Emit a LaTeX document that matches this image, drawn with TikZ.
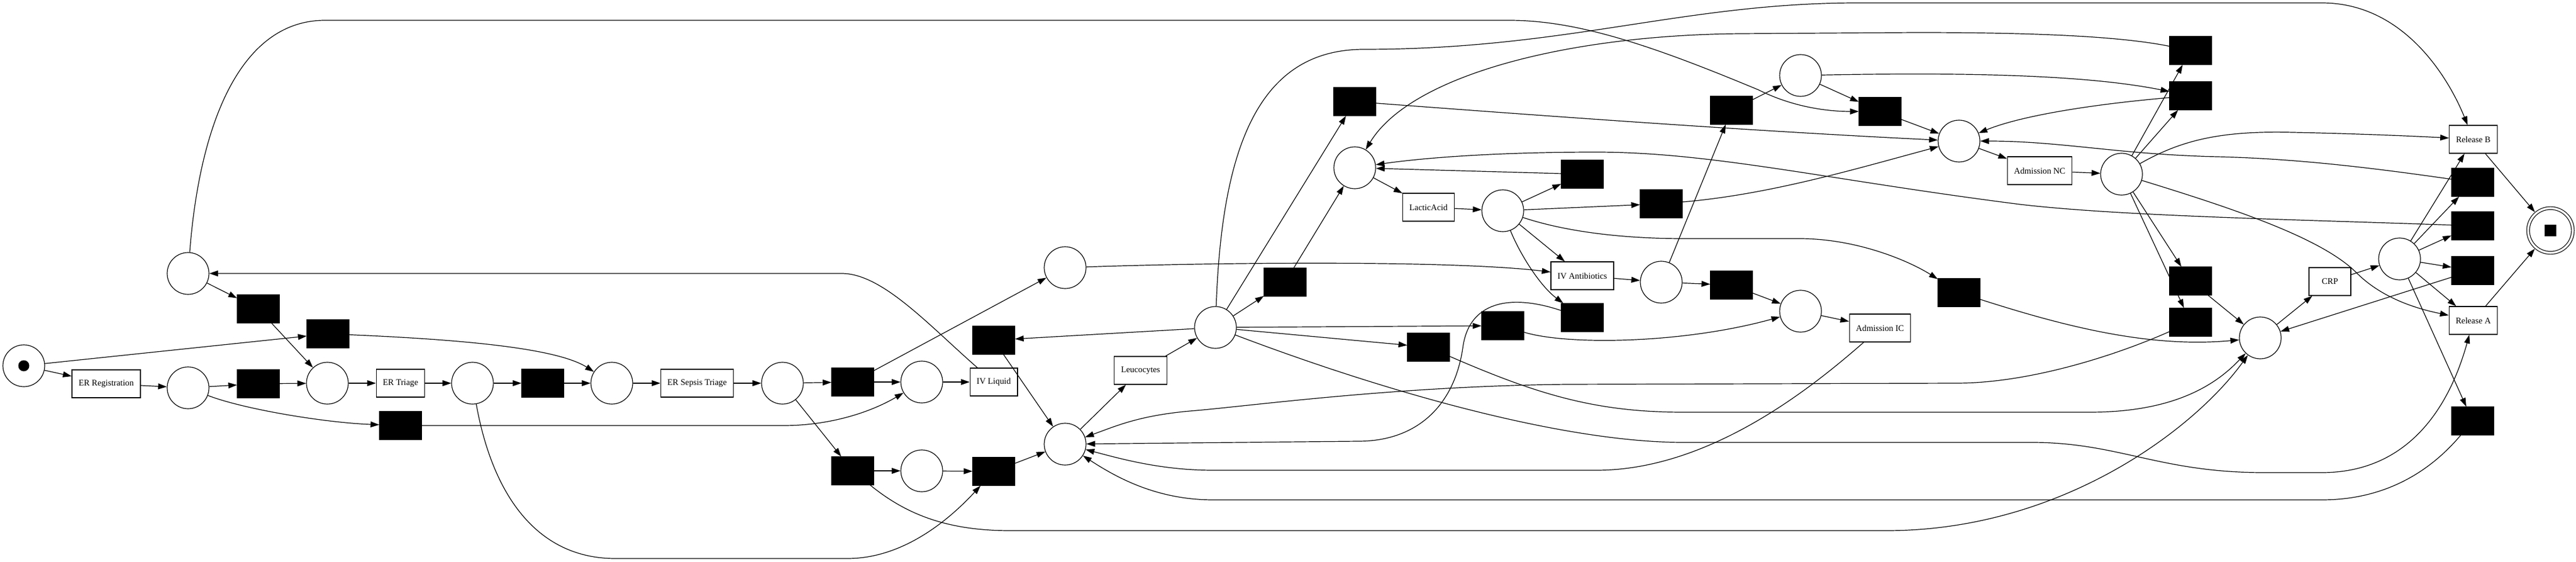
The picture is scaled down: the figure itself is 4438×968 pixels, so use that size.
\documentclass[tikz,border=0pt]{standalone}
\usepackage{fontspec}
\setmainfont{Liberation Serif}
\usetikzlibrary{arrows.meta}
\tikzset{
>={Triangle[length=15pt,width=10pt]}, % filled arrow heads as in the net
place/.style={circle, draw, fill=white, minimum size=72pt, inner sep=0pt}, % places
trans/.style={rectangle, draw, fill=white, minimum width=72pt, minimum height=48pt, inner xsep=11.5pt, font=\fontsize{14.8}{17}\selectfont}, % labelled transitions
silent/.style={rectangle, draw, fill=black, minimum width=72pt, minimum height=48pt}, % silent transitions
}
\begin{document}
\begin{tikzpicture}[x=1pt, y=-1pt, line width=1.2pt]
  \useasboundingbox (0,0) rectangle (4438,968);

  % Places
  \node[place] (ps) at (41,630) {};
  \node[place] (p1) at (324,668) {};
  \node[place] (p2) at (564,660) {};
  \node[place] (p3) at (814,660) {};
  \node[place] (p4) at (1054,660) {};
  \node[place] (p5) at (324,471) {};
  \node[place] (p6) at (3894,582) {};
  \node[place] (p7) at (1348,660) {};
  \node[place] (p8) at (1588,658) {};
  \node[place] (p9) at (1588,811) {};
  \node[place] (p10) at (1835,765) {};
  \node[place] (p11) at (1835,461) {};
  \node[place] (p12) at (2094,564) {};
  \node[place] (p13) at (2334,289) {};
  \node[place] (p14) at (2589,363) {};
  \node[place] (p15) at (2862,486) {};
  \node[place] (p16) at (3102,536) {};
  \node[place] (p17) at (3102,130) {};
  \node[place] (p18) at (3375,243) {};
  \node[place] (p19) at (3655,300) {};
  \node[place] (p20) at (4134,446) {};
  \node[place, double, double distance=3.6pt, minimum size=77pt, outer sep=3pt] (pe) at (4394,397) {};
  \fill (ps.center) circle (9.5pt);
  \fill (pe.center) ++(-10,-10) rectangle ++(20,20);

  % Labelled transitions
  \node[trans] (reg) at (183,661) {ER Registration};
  \node[trans] (triage) at (690,660) {ER Triage};
  \node[trans] (sepsis) at (1201,660) {ER Sepsis Triage};
  \node[trans] (ivl) at (1712,658) {IV Liquid};
  \node[trans] (leu) at (1965,638) {Leucocytes};
  \node[trans] (lac) at (2461,357) {LacticAcid};
  \node[trans] (iva) at (2726,475) {IV Antibiotics};
  \node[trans] (admic) at (3239,565) {Admission IC};
  \node[trans] (admnc) at (3514,294) {Admission NC};
  \node[trans] (crp) at (4014,485) {CRP};
  \node[trans] (relb) at (4261,240) {Release B};
  \node[trans] (rela) at (4261,552) {Release A};

  % Silent transitions
  \node[silent] (t1) at (445,661) {};
  \node[silent] (t2) at (935,660) {};
  \node[silent] (t3) at (445,532) {};
  \node[silent] (t4) at (565,575) {};
  \node[silent] (t5) at (690,733) {};
  \node[silent] (t6) at (1469,658) {};
  \node[silent] (t7) at (1469,811) {};
  \node[silent] (t8) at (1712,812) {};
  \node[silent] (t9) at (1712,586) {};
  \node[silent] (t10) at (2214,486) {};
  \node[silent] (t11) at (2334,175) {};
  \node[silent] (t12) at (2726,300) {};
  \node[silent] (t13) at (2862,351) {};
  \node[silent] (t14) at (2726,547) {};
  \node[silent] (t15) at (2983,491) {};
  \node[silent] (t16) at (2589,561) {};
  \node[silent] (t17) at (2461,598) {};
  \node[silent] (t18) at (2983,190) {};
  \node[silent] (t19) at (3239,192) {};
  \node[silent] (t20) at (3774,87) {};
  \node[silent] (t21) at (3774,165) {};
  \node[silent] (t22) at (4260,314) {};
  \node[silent] (t23) at (4260,389) {};
  \node[silent] (t24) at (4260,466) {};
  \node[silent] (t25) at (4260,725) {};
  \node[silent] (t26) at (3774,484) {};
  \node[silent] (t27) at (3774,555) {};
  \node[silent] (t28) at (3375,504) {};

  % Arcs
  \path[->]
    (ps) edge (reg)
    (ps) edge (t4)
    (reg) edge (p1)
    (p1) edge (t1)
    (t1) edge (p2)
    (p5) edge (t3)
    (t3) edge (p2)
    (p2) edge (triage)
    (triage) edge (p3)
    (p3) edge (t2)
    (t2) edge (p4)
    (p4) edge (sepsis)
    (sepsis) edge (p7)
    (p7) edge (t6)
    (p7) edge (t7)
    (t6) edge (p8)
    (t6) edge (p11)
    (p8) edge (ivl)
    (t7) edge (p9)
    (p9) edge (t8)
    (t8) edge (p10)
    (t9) edge (p10)
    (p10) edge (leu)
    (leu) edge (p12)
    (p12) edge (t9)
    (p12) edge (t10)
    (p12) edge (t11)
    (p12) edge (t16)
    (p12) edge (t17)
    (t10) edge (p13)
    (p13) edge (lac)
    (lac) edge (p14)
    (p14) edge (t12)
    (t12) edge (p13)
    (p14) edge (t13)
    (p14) edge (iva)
    (iva) edge (p15)
    (p15) edge (t18)
    (p15) edge (t15)
    (t15) edge (p16)
    (t18) edge (p17)
    (p17) edge (t19)
    (t19) edge (p18)
    (p18) edge (admnc)
    (admnc) edge (p19)
    (p16) edge (admic)
    (p19) edge (t20)
    (p19) edge (t21)
    (p19) edge (t26)
    (p19) edge (t27)
    (t26) edge (p6)
    (t24) edge (p6)
    (p6) edge (crp)
    (crp) edge (p20)
    (p20) edge (relb)
    (p20) edge (t22)
    (p20) edge (t23)
    (p20) edge (t24)
    (p20) edge (rela)
    (p20) edge (t25)
    (relb) edge (pe)
    (rela) edge (pe);

  % Curved arcs
  \draw[->] (p1) .. controls (420,705) and (560,728) .. (t5);
  \draw[->] (t4) .. controls (800,585) and (960,600) .. (p4);
  \draw[->] (p3) .. controls (850,860) and (930,962) .. (1060,962) -- (1460,962) .. controls (1560,962) and (1640,890) .. (t8);
  \draw[->] (t5) -- (1350,733) .. controls (1430,733) and (1500,710) .. (p8);
  \draw[->] (p5) .. controls (345,200) and (420,35) .. (560,35) -- (2600,35) .. controls (2720,35) and (2850,80) .. (3030,155) .. controls (3090,185) and (3150,192) .. (t19);
  \draw[->] (ivl) .. controls (1600,560) and (1520,471) .. (1450,471) -- (p5);
  \draw[->] (t7) .. controls (1560,885) and (1630,914) .. (1740,914) -- (3250,914) .. controls (3550,914) and (3780,740) .. (p6);
  \draw[->] (t27) .. controls (3650,610) and (3500,660) .. (3370,660) -- (2700,662) .. controls (2400,665) and (2150,700) .. (2050,708) .. controls (1960,716) and (1920,735) .. (p10);
  \draw[->] (p14) .. controls (2615,430) and (2650,490) .. (t14);
  \draw[->] (t14) .. controls (2600,505) and (2530,520) .. (2520,600) .. controls (2505,700) and (2440,760) .. (2340,760) -- (p10);
  \draw[->] (admic) .. controls (3130,660) and (2950,810) .. (2750,810) -- (2090,810) .. controls (2000,810) and (1930,790) .. (p10);
  \draw[->] (t25) .. controls (4180,820) and (4100,861) .. (4000,861) -- (2090,861) .. controls (1990,861) and (1920,820) .. (p10);
  \draw[->] (p11) .. controls (2100,452) and (2500,448) .. (iva);
  \draw[->] (p12) .. controls (2105,250) and (2170,85) .. (2350,85) .. controls (2700,85) and (2900,5) .. (3200,5) -- (4000,5) .. controls (4150,5) and (4225,150) .. (relb);
  \draw[->] (p12) .. controls (2400,680) and (2700,762) .. (2900,762) -- (3500,762) .. controls (3650,762) and (3720,814) .. (3900,814) -- (4000,814) .. controls (4150,814) and (4220,700) .. (rela);
  \draw[->] (t11) .. controls (2600,195) and (3000,225) .. (p18);
  \draw[->] (p14) .. controls (2700,400) and (2800,411) .. (2900,411) -- (3100,411) .. controls (3200,411) and (3290,450) .. (t28);
  \draw[->] (t13) .. controls (3050,335) and (3200,290) .. (p18);
  \draw[->] (t23) .. controls (3950,378) and (3650,372) .. (3480,352) .. controls (3150,310) and (2950,262) .. (2750,262) .. controls (2550,262) and (2430,275) .. (p13);
  \draw[->] (t20) .. controls (3650,62) and (3500,56) .. (3300,56) -- (3000,58) .. controls (2700,60) and (2430,130) .. (p13);
  \draw[->] (p17) .. controls (3400,124) and (3600,130) .. (t21);
  \draw[->] (t16) .. controls (2700,595) and (2900,592) .. (p16);
  \draw[->] (t17) .. controls (2650,680) and (2750,710) .. (2900,710) -- (3600,710) .. controls (3750,710) and (3820,660) .. (p6);
  \draw[->] (t21) .. controls (3600,180) and (3480,200) .. (p18);
  \draw[->] (t22) .. controls (4080,288) and (3950,273) .. (3820,270) .. controls (3650,266) and (3550,243) .. (p18);
  \draw[->] (p19) .. controls (3760,240) and (3830,225) .. (3950,228) .. controls (4050,230) and (4150,234) .. (relb);
  \draw[->] (p19) .. controls (3850,360) and (4000,410) .. (4060,470) .. controls (4110,520) and (4180,535) .. (rela);
  \draw[->] (t28) .. controls (3550,560) and (3700,600) .. (p6);
\end{tikzpicture}
\end{document}
